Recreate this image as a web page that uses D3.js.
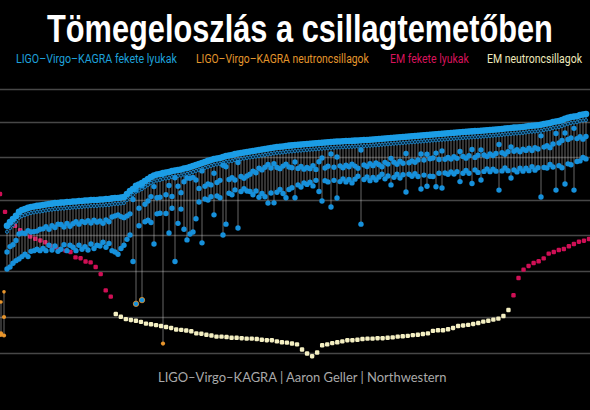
<!DOCTYPE html>
<html>
<head>
<meta charset="utf-8">
<script src="https://cdn.jsdelivr.net/npm/d3@7"></script>
<style>
  html, body { margin: 0; padding: 0; background: #000; }
  svg { display: block; }
</style>
</head>
<body>
<div id="temeto"></div>
<script>
// Tömegeloszlás a csillagtemetőben - masses in solar masses, log scale

// gridline masses
const gridMasses = [1, 2, 5, 10, 20, 50, 100, 200];

// LIGO-Virgo-KAGRA events, sorted by final (remnant) mass
const remnant = [2.7, 3.3,
  12.0, 12.9, 13.7, 14.6, 15.8, 16.4, 16.7, 17.1, 17.4, 17.6, 17.8, 17.9, 18.1, 18.3, 18.5, 18.6, 18.8, 18.8, 19.0, 19.0,
  19.2, 19.2, 19.4, 19.4, 19.6, 19.6, 19.8, 19.8, 20.0, 20.0, 20.0, 20.2, 20.2, 20.4, 20.4, 20.7, 20.9, 20.9, 21.1, 21.3,
  22.7, 24.2, 25.3, 27.0, 27.8, 28.7, 30.0, 31.3, 32.7, 33.7, 34.4,
  34.8, 35.6, 35.9, 36.3, 37.1, 37.5, 37.9, 38.3, 39.1, 39.6, 40.4, 41.3, 42.2, 43.1, 44.0, 45.0, 46.0, 46.9, 47.9, 48.5,
  49.0, 50.0, 51.0, 51.5, 52.0, 53.0, 53.6, 54.1, 54.6, 55.2,
  55.7, 56.3, 56.8, 57.4, 58.0, 58.6, 59.2, 59.8, 60.4, 61.0, 61.2, 61.6, 62.2, 62.6, 62.9, 63.4,
  63.7, 63.9, 64.3, 64.7, 65.0, 65.3, 65.6, 66.0, 66.3, 66.7, 67.0, 67.3, 67.6, 67.9, 68.0, 68.3, 68.6, 68.7, 68.8, 69.1,
  69.4, 69.7, 70.0, 70.0, 70.3, 70.7, 71.0, 71.4, 71.7, 72.2, 72.5, 72.9, 73.2, 73.5, 73.9, 74.3, 74.6, 75.0, 75.4, 75.8,
  76.1, 76.5, 76.9, 77.3, 77.6, 78.1, 78.4, 78.9,
  79.2, 79.6, 80.0, 80.4, 80.7, 81.2, 81.5, 82.0, 82.3, 82.7, 83.0, 83.4, 83.7, 84.0, 84.6, 84.9, 85.4, 85.8, 86.3, 86.6,
  87.1, 88.0, 88.3, 88.8, 89.4, 89.7, 90.1, 90.6, 91.5, 92.4, 92.8, 93.3, 93.8, 94.6, 96.1, 97.1, 98.0, 100, 101, 102,
  104, 107, 109, 111, 112, 113, 116, 117, 118];

const mass1 = [1.46, 2.0,
  7.2, 8.0, 8.3, 9.0, 10.2, 10.4, 10.3, 10.9, 10.6, 10.7, 10.8, 11.2,
  11.3, 11.8, 11.2, 12.0, 11.6, 12.4, 12.3, 11.7, 12.6, 11.9, 12.5, 13.0, 12.4, 13.1, 12.8, 13.3, 12.7, 13.4, 12.9, 13.2,
  12.6, 13.5, 13.0, 14.3, 14.6, 14.9, 14.4, 14.1,
  14.6, 15.2, 20.2, 24.8, 17.0, 27.1, 18.4, 19.6, 21.5, 26.6, 21.0,
  21.2, 34.6, 22.4, 27.2, 21.6, 32.1, 26.8, 23.4, 29.5, 32.0, 31.8, 32.4, 30.6, 25.6, 37.2, 26.8, 28.2, 27.6, 35.4, 29.0,
  30.4, 42.0, 40.6, 31.0, 32.2, 30.6, 44.4, 33.0, 31.8, 33.4,
  34.6, 37.0, 35.8, 39.4, 38.0, 40.2, 42.6, 39.6, 43.4, 40.0, 39.0, 41.2, 43.0, 40.4, 39.8, 45.0,
  39.2, 40.8, 38.6, 40.0, 39.0, 41.6, 38.4, 45.2, 49.0, 39.6, 41.0, 53.0, 40.2, 50.0, 41.4, 39.8, 42.0, 40.6, 43.0, 41.2,
  39.4, 57.4, 42.2, 40.8, 43.4, 41.6, 44.0, 42.4, 40.6, 44.6, 43.0, 48.6, 44.8, 42.8, 45.6, 43.8, 53.6, 44.2, 46.0, 44.6,
  47.0, 53.0, 46.8, 52.8, 48.2, 49.0, 54.0, 47.4,
  56.4, 47.6, 49.4, 47.8, 50.2, 48.6, 55.8, 50.6, 48.8, 51.2, 58.0, 49.6, 51.8, 57.6, 52.0, 50.4, 53.0, 51.4, 53.6, 64.0,
  54.4, 52.8, 55.6, 61.0, 56.0, 57.8, 55.4, 58.4, 57.0, 59.6, 56.8, 60.2, 58.6, 76.0, 60.8, 62.4, 60.2, 64.6, 79.6, 66.0,
  69.4, 80.4, 70.8, 73.0, 88.2, 72.0, 74.6, 71.2, 75.0];

const mass2 = [1.42, 1.40,
  5.2, 5.4, 5.8, 6.1, 6.3, 6.6, 6.9, 6.6, 7.3, 7.4, 7.6, 7.4,
  7.7, 7.4, 8.2, 7.5, 8.1, 7.3, 7.6, 8.3, 7.4, 8.2, 7.9, 7.4, 8.2, 7.6, 8.0, 7.5, 8.4, 7.7, 8.2, 8.1,
  8.7, 7.9, 8.5, 7.4, 7.2, 6.9, 7.7, 8.2,
  9.2, 10.0, 6.0, 2.6, 12.0, 2.8, 13.0, 13.4, 12.8, 8.4, 15.2,
  15.4, 1.2, 15.3, 10.4, 17.0, 6.0, 12.6, 16.7, 11.2, 9.1, 10.2, 10.6, 13.8, 19.2, 8.6, 20.4, 20.0, 21.4, 14.9, 21.8,
  21.0, 10.0, 12.4, 23.1, 22.4, 24.8, 11.5, 24.0, 25.4, 24.2,
  24.0, 22.4, 24.2, 21.2, 23.0, 21.4, 18.8, 23.2, 18.9, 23.6, 25.0, 23.0, 21.0, 25.0, 26.0, 21.0,
  27.6, 26.4, 28.8, 27.9, 29.2, 27.0, 30.4, 24.0, 19.6, 30.2, 29.4, 17.4, 30.4, 20.9, 29.6, 31.4, 29.4, 31.0, 28.8, 31.2,
  33.2, 12.4, 31.0, 32.6, 30.2, 32.4, 30.6, 32.6, 34.6, 31.4, 33.4, 27.6, 32.4, 34.6, 32.0, 34.2, 23.7, 34.6, 33.2, 35.0,
  33.0, 25.3, 34.0, 26.8, 33.2, 33.0, 26.5, 35.4,
  25.8, 35.6, 34.6, 36.4, 34.8, 36.6, 29.6, 35.4, 37.6, 35.4, 28.4, 38.0, 36.0, 30.6, 36.8, 38.8, 36.6, 38.6, 37.0, 24.7,
  37.2, 39.6, 37.4, 32.0, 38.0, 36.4, 39.4, 37.0, 39.4, 37.4, 40.6, 37.8, 39.8, 21.3, 40.0, 39.6, 42.6, 40.4, 24.7, 41.6,
  39.8, 28.1, 43.2, 42.4, 24.7, 45.4, 46.0, 49.4, 48.0];

// electromagnetic observations
const emBlackHolesLeft = [22.7, 15.8, 12.7, 12.0, 11.0, 10.4, 9.7, 9.3, 9.0, 8.7, 8.1, 7.9, 7.6, 7.4, 7.2, 6.5, 6.4,
  6.0, 5.9, 5.4, 4.7, 3.4, 3.0];
const emNeutronStars = [2.12, 2.01, 1.92, 1.89, 1.86, 1.82, 1.76, 1.74, 1.71, 1.68, 1.65, 1.62, 1.57, 1.56, 1.54,
  1.52, 1.46, 1.45, 1.42, 1.40, 1.37, 1.37, 1.36, 1.34, 1.34, 1.33, 1.32, 1.32, 1.31, 1.29, 1.28, 1.28, 1.25, 1.23, 1.22,
  1.20, 1.18, 1.07, 0.99, 0.94, 1.01, 1.16, 1.18, 1.21, 1.23, 1.25, 1.28, 1.28, 1.29, 1.31, 1.32, 1.32, 1.33, 1.33, 1.34,
  1.35, 1.37, 1.38, 1.39, 1.41, 1.42, 1.44, 1.46, 1.53, 1.55, 1.55, 1.58, 1.62, 1.68, 1.70, 1.72, 1.75, 1.78, 1.83, 1.86,
  1.90, 1.94, 2.04, 2.30];
const emBlackHolesRight = [3.08, 4.35, 5.13, 5.51, 5.83, 6.03, 6.38, 6.98, 7.21, 7.49, 7.64, 8.05, 8.41, 8.79, 8.96, 9.26];

const legendLabels = ['LIGO–Virgo–KAGRA fekete lyukak', 'LIGO–Virgo–KAGRA neutroncsillagok',
  'EM fekete lyukak', 'EM neutroncsillagok'];
const titre = 'Tömegeloszlás a csillagtemetőben';
const credit = 'LIGO–Virgo–KAGRA | Aaron Geller | Northwestern';

// couleurs
const BLEU = '#1b9de6', BLEU_COMP = '#1690db', ORANGE = '#e8952c', ROUGE = '#cf0f55', CREME = '#f4efc2';
const legendColors = ['#1ea0da', '#e3962c', '#d8135c', '#eee8bb'];

const LARGEUR = 590, HAUTEUR = 410;

const svg = d3.select('#temeto').append('svg')
  .attr('width', LARGEUR).attr('height', HAUTEUR)
  .style('background', '#000');

// echelle log par morceaux, calee sur les lignes de la grille
const y = d3.scaleLog().domain(gridMasses).range([353, 317, 271, 235, 200, 157, 122, 89]);
const xGW = d3.scaleLinear().domain([0, remnant.length - 1]).range([1, 586]);

const em = []
  .concat(emBlackHolesLeft.map(m => ({m, type: 'bh'})))
  .concat(emNeutronStars.map(m => ({m, type: 'ns'})))
  .concat(emBlackHolesRight.map(m => ({m, type: 'bh'})));
const xEM = d3.scaleLinear().domain([0, em.length - 1]).range([0, 589]);

// grille
svg.append('g')
  .attr('class', 'grille')
  .call(d3.axisLeft(y).tickValues(gridMasses).tickSize(-LARGEUR).tickFormat(''))
  .call(g => g.select('.domain').remove())
  .call(g => g.selectAll('.tick line').attr('stroke', '#474747').attr('stroke-width', 1.6));

// EM objects
svg.append('g').selectAll('rect')
  .data(em)
  .enter().append('rect')
  .attr('x', (d, i) => xEM(i) - 2.2)
  .attr('y', d => y(d.m) - 2.2)
  .attr('width', 4.4).attr('height', 4.4).attr('rx', 1.3)
  .attr('fill', d => d.type === 'bh' ? ROUGE : CREME);

const events = remnant.map((M, i) => ({i, M, m1: mass1[i], m2: mass2[i]}));

// NS: orange; zone de masse 2.5-3.5: bleu cerne d'orange
function fillFor(m) { return m < 2.5 ? ORANGE : BLEU_COMP; }
function strokeFor(m) { return m < 3.5 && m >= 2.5 ? ORANGE : 'none'; }

// lignes verticales
svg.append('g').selectAll('line')
  .data(events)
  .enter().append('line')
  .attr('x1', d => xGW(d.i)).attr('x2', d => xGW(d.i))
  .attr('y1', d => y(d.M))
  .attr('y2', d => y(Math.min(d.m1, d.m2)))
  .attr('stroke', '#d8d8d8').attr('stroke-opacity', 0.6).attr('stroke-width', 0.8);

// pointes sous la masse finale
svg.append('g').selectAll('circle')
  .data(events.filter(d => d.M > 5))
  .enter().append('circle')
  .attr('cx', d => xGW(d.i))
  .attr('cy', d => y(d.M) + 6)
  .attr('r', 1.6)
  .attr('fill', '#0b2a40').attr('stroke', '#1c82c4').attr('stroke-width', 0.9);

// composantes
const composantes = [];
events.forEach(d => {
  composantes.push({i: d.i, m: d.m1});
  composantes.push({i: d.i, m: d.m2});
});
svg.append('g').selectAll('circle')
  .data(composantes)
  .enter().append('circle')
  .attr('cx', d => xGW(d.i))
  .attr('cy', d => y(d.m))
  .attr('r', d => d.m < 2.5 ? 2.1 : 2.7)
  .attr('fill', d => fillFor(d.m))
  .attr('stroke', d => strokeFor(d.m)).attr('stroke-width', 0.8);

// masses finales
svg.append('g').selectAll('circle')
  .data(events)
  .enter().append('circle')
  .attr('cx', d => xGW(d.i))
  .attr('cy', d => y(d.M))
  .attr('r', d => d.M < 5 ? 1.8 : 3.3)
  .attr('fill', d => d.M < 5 ? ORANGE : BLEU);

// texte ajuste a une largeur donnee (echelle horizontale)
function ajuster(sel, x, base, largeur) {
  const naturel = sel.node().getComputedTextLength();
  sel.attr('x', 0).attr('y', 0)
    .attr('transform', 'translate(' + x + ',' + base + ') scale(' + (largeur / naturel) + ',1)');
}

// titre
const t = svg.append('text')
  .style('font-family', '"Liberation Sans", Arial, sans-serif')
  .style('font-weight', 'bold').style('font-size', '38px')
  .attr('fill', '#fff')
  .text(titre);
ajuster(t, 47, 42, 506);

// legende
const legendBounds = [[16, 161], [196, 173], [390, 79], [487, 95]];
legendLabels.forEach((lab, i) => {
  const l = svg.append('text')
    .style('font-family', 'Roboto, sans-serif').style('font-size', '12px')
    .attr('fill', legendColors[i])
    .text(lab);
  ajuster(l, legendBounds[i][0], 63, legendBounds[i][1]);
});

// credit
const c = svg.append('text')
  .style('font-family', 'Lato, sans-serif').style('font-size', '13.5px')
  .attr('fill', '#a9a9a9')
  .text(credit);
ajuster(c, 158, 382, 289);
</script>
</body>
</html>
